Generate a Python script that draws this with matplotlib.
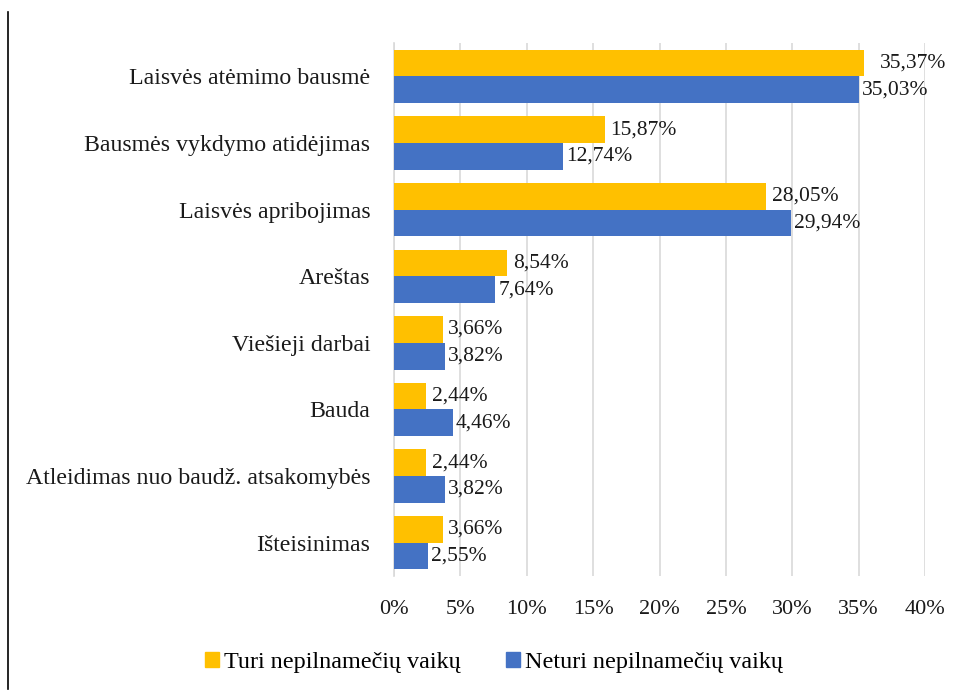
import matplotlib.pyplot as plt
import numpy as np
from matplotlib.lines import Line2D
from matplotlib.patches import Patch

plt.rcParams["font.family"] = ["Liberation Serif", "DejaVu Serif"]

categories = [
    "Laisvės atėmimo bausmė",
    "Bausmės vykdymo atidėjimas",
    "Laisvės apribojimas",
    "Areštas",
    "Viešieji darbai",
    "Bauda",
    "Atleidimas nuo baudž. atsakomybės",
    "Išteisinimas",
]
turi = [35.37, 15.87, 28.05, 8.54, 3.66, 2.44, 2.44, 3.66]
neturi = [35.03, 12.74, 29.94, 7.64, 3.82, 4.46, 3.82, 2.55]
series_names = ["Turi nepilnamečių vaikų", "Neturi nepilnamečių vaikų"]
ticks = [0, 5, 10, 15, 20, 25, 30, 35, 40]

YELLOW = "#FFC000"
BLUE = "#4472C4"
TXT = "#1a1a1a"

fig = plt.figure(figsize=(9.67, 7), dpi=100)
ax = fig.add_axes([0.4075, 0.177, 0.5491, 0.7616])

y = np.arange(len(categories))
h = 0.4
ax.barh(y - h / 2, turi, height=h, color=YELLOW, zorder=3)
ax.barh(y + h / 2, neturi, height=h, color=BLUE, zorder=3)

def fmt(v):
    return f"{v:.2f}".replace(".", ",") + "%"

# the top yellow label sits a bit further out in the original
for i, (yy, v) in enumerate(zip(y - h / 2, turi)):
    dx = 12 if i == 0 else 4
    ax.annotate(fmt(v), (v, yy), xytext=(dx, 0), textcoords="offset points",
                va="center", ha="left", fontsize=15.5, color=TXT)
for yy, v in zip(y + h / 2, neturi):
    ax.annotate(fmt(v), (v, yy), xytext=(2, 0), textcoords="offset points",
                va="center", ha="left", fontsize=15.5, color=TXT)

ax.set_xlim(0, 40)
ax.set_ylim(len(categories) - 0.5, -0.5)
ax.set_xticks(ticks)
ax.set_xticklabels([f"{t}%" for t in ticks], fontsize=16, color=TXT)
ax.set_yticks(y)
ax.set_yticklabels(categories, fontsize=17.2, color=TXT)
ax.tick_params(axis="x", length=0, pad=17)
ax.tick_params(axis="y", length=0, pad=17)
ax.grid(axis="x", color="#d9d9d9", linewidth=1.2, zorder=0)
for s in ["top", "right", "bottom"]:
    ax.spines[s].set_visible(False)
ax.spines["left"].set_color("#d9d9d9")
ax.spines["left"].set_linewidth(1.2)

handles = [Patch(color=YELLOW), Patch(color=BLUE)]
fig.legend(handles, series_names, loc="center", bbox_to_anchor=(0.511, 0.054),
           ncol=2, frameon=False, fontsize=17.4, handlelength=0.58, handleheight=0.58,
           handletextpad=0.2, columnspacing=1.9)

# page border line on the left
fig.add_artist(Line2D([0.0078, 0.0078], [0.016, 0.983], color="black", linewidth=1.2))

fig.savefig("out.png", dpi=100)
